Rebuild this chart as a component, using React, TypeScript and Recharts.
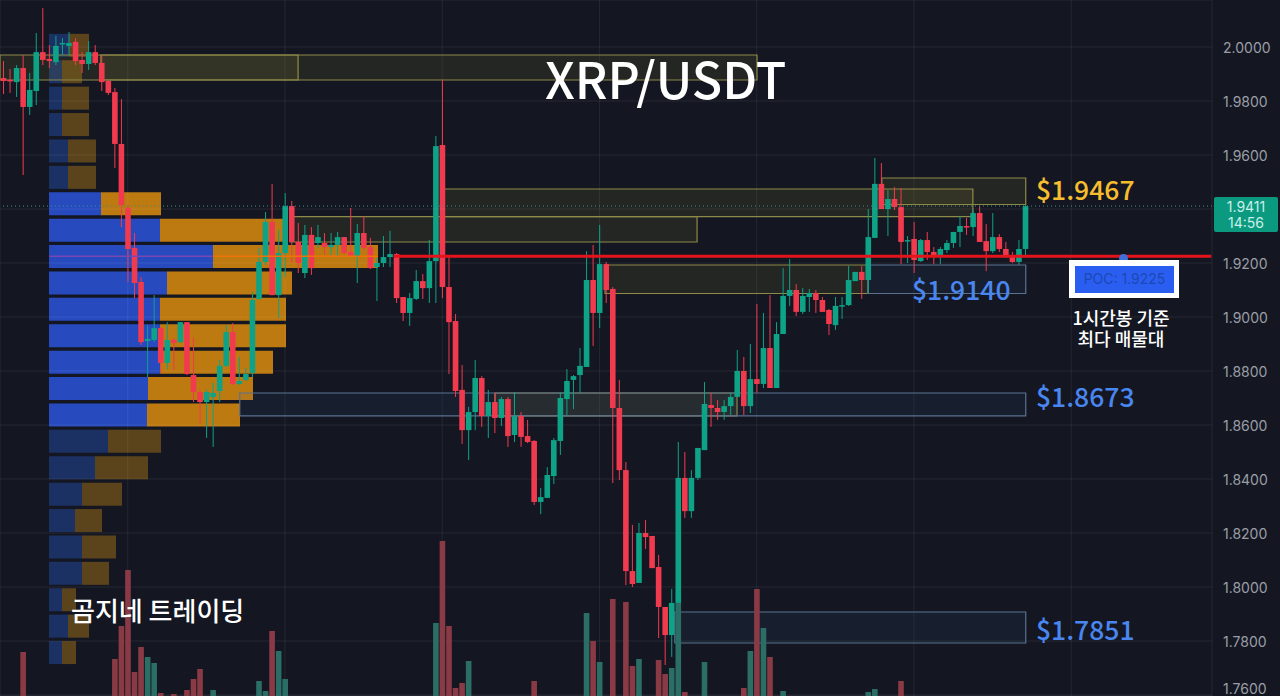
import React from "react";
import {
  Bar,
  BarChart,
  CartesianGrid,
  Cell,
  ComposedChart,
  ReferenceArea,
  ReferenceLine,
  XAxis,
  YAxis,
} from "recharts";

const W = 1280;
const H = 696;

// hourly candles, oldest first
const opens = [
  1.9885, 1.9878, 1.987, 1.9922, 1.9778, 1.9837, 1.9981, 1.9956, 1.9944, 2.0011,
  2.0004, 2.0019, 1.9952, 1.9937, 1.9981, 1.9941, 1.9874, 1.9833, 1.9641, 1.9404,
  1.9256, 1.913, 1.8911, 1.8915, 1.8959, 1.883, 1.8915, 1.8907, 1.8981, 1.8785,
  1.8722, 1.8685, 1.8704, 1.8726, 1.8819, 1.8944, 1.8752, 1.8767, 1.8793, 1.9067,
  1.9204, 1.9352, 1.9081, 1.9237, 1.9411, 1.9278, 1.9163, 1.9304, 1.9274, 1.9274,
  1.9259, 1.9267, 1.9296, 1.9241, 1.9226, 1.9311, 1.9259, 1.9185, 1.92, 1.9222,
  1.9233, 1.9074, 1.9015, 1.9067, 1.9133, 1.9107, 1.9207, 1.9637, 1.9111, 1.8985,
  1.873, 1.8581, 1.8648, 1.8774, 1.8633, 1.8685, 1.8626, 1.8696, 1.8563, 1.8633,
  1.8559, 1.8541, 1.8315, 1.833, 1.8411, 1.8541, 1.8696, 1.8767, 1.8785, 1.8815,
  1.9137, 1.9015, 1.9196, 1.9104, 1.8663, 1.8433, 1.8059, 1.8015, 1.82, 1.8189,
  1.8074, 1.7926, 1.7822, 1.7941, 1.8404, 1.8281, 1.8404, 1.8507, 1.8674, 1.8663,
  1.8648, 1.867, 1.8704, 1.88, 1.867, 1.877, 1.8752, 1.8885, 1.8737, 1.8937,
  1.9078, 1.91, 1.9019, 1.9074, 1.9089, 1.9063, 1.9026, 1.897, 1.9041, 1.9044,
  1.9133, 1.9167, 1.9137, 1.9293, 1.9493, 1.94, 1.9437, 1.9407, 1.9281, 1.9289,
  1.9207, 1.9285, 1.9241, 1.9226, 1.9248, 1.9274, 1.9315, 1.9337, 1.9333, 1.9385,
  1.9281, 1.9244, 1.9296, 1.9252, 1.9222, 1.9204, 1.9252,
];

const closes = [
  1.9874, 1.9874, 1.9922, 1.9778, 1.9841, 1.9981, 1.9952, 1.9948, 2.0004, 2.0015,
  2.0015, 1.9948, 1.9937, 1.9981, 1.9941, 1.987, 1.983, 1.9641, 1.9415, 1.9252,
  1.9126, 1.8907, 1.8919, 1.8959, 1.883, 1.8915, 1.8904, 1.8981, 1.8789, 1.8722,
  1.8685, 1.8722, 1.8719, 1.8819, 1.8944, 1.8752, 1.8763, 1.8789, 1.9063, 1.9204,
  1.9352, 1.9081, 1.9237, 1.9411, 1.9278, 1.92, 1.9304, 1.9181, 1.9296, 1.9259,
  1.9267, 1.9296, 1.9237, 1.9222, 1.9311, 1.9256, 1.9181, 1.92, 1.9222, 1.9233,
  1.907, 1.9015, 1.907, 1.9133, 1.9107, 1.9207, 1.9633, 1.9111, 1.8981, 1.8726,
  1.8581, 1.8648, 1.8774, 1.8633, 1.8685, 1.8626, 1.8696, 1.8559, 1.8633, 1.8556,
  1.8537, 1.8315, 1.8333, 1.8415, 1.8544, 1.87, 1.8763, 1.8781, 1.8819, 1.9137,
  1.9015, 1.9196, 1.91, 1.8663, 1.8433, 1.8059, 1.8011, 1.82, 1.8185, 1.807,
  1.7926, 1.7822, 1.7941, 1.8404, 1.8281, 1.8404, 1.8515, 1.8678, 1.8663, 1.8648,
  1.867, 1.8704, 1.88, 1.867, 1.877, 1.8752, 1.8885, 1.8737, 1.8937, 1.9078,
  1.91, 1.9019, 1.9078, 1.9089, 1.9063, 1.9019, 1.8974, 1.9041, 1.9044, 1.9137,
  1.9167, 1.9137, 1.9296, 1.9493, 1.94, 1.9437, 1.9407, 1.9278, 1.9285, 1.9211,
  1.9285, 1.9241, 1.9226, 1.9252, 1.9274, 1.9315, 1.9337, 1.9333, 1.9385, 1.9278,
  1.9244, 1.9296, 1.9252, 1.9222, 1.9204, 1.9252, 1.9411,
];

const highs = [
  1.9948, 1.9919, 1.9933, 1.997, 1.9904, 2.0052, 2.0144, 2.0007, 2.0041, 2.0033,
  2.0056, 2.0033, 1.9981, 2.0022, 2.0007, 1.997, 1.9878, 1.9848, 1.9807, 1.9415,
  1.9311, 1.9148, 1.897, 1.9081, 1.8963, 1.8981, 1.8922, 1.8981, 1.8981, 1.8926,
  1.873, 1.873, 1.8756, 1.8841, 1.897, 1.8978, 1.8852, 1.8811, 1.9093, 1.9256,
  1.9389, 1.9493, 1.9322, 1.9459, 1.943, 1.9348, 1.9341, 1.9333, 1.9341, 1.9311,
  1.9311, 1.9315, 1.9296, 1.9404, 1.9344, 1.9374, 1.9293, 1.9219, 1.93, 1.9319,
  1.9237, 1.9074, 1.9089, 1.9174, 1.9159, 1.9285, 1.967, 1.9878, 1.9222, 1.9011,
  1.8822, 1.8667, 1.8841, 1.8781, 1.873, 1.8719, 1.8704, 1.8704, 1.8722, 1.8648,
  1.8619, 1.8544, 1.8367, 1.8444, 1.8552, 1.8722, 1.8807, 1.8785, 1.8885, 1.9244,
  1.9267, 1.9341, 1.9204, 1.9111, 1.8767, 1.8463, 1.823, 1.8237, 1.8248, 1.8189,
  1.8119, 1.7926, 1.7993, 1.8537, 1.85, 1.8433, 1.8515, 1.8759, 1.8719, 1.8693,
  1.8693, 1.8719, 1.8878, 1.8852, 1.89, 1.9048, 1.9015, 1.9081, 1.8981, 1.9181,
  1.9215, 1.9122, 1.9107, 1.9104, 1.91, 1.9074, 1.903, 1.9074, 1.9074, 1.9189,
  1.9167, 1.9189, 1.94, 1.9589, 1.957, 1.947, 1.9481, 1.9478, 1.93, 1.9352,
  1.9289, 1.9315, 1.9259, 1.9259, 1.9285, 1.9315, 1.9374, 1.9367, 1.9396, 1.9411,
  1.9344, 1.9385, 1.9307, 1.9278, 1.9241, 1.9285, 1.9415,
];

const lows = [
  1.9826, 1.983, 1.9815, 1.9526, 1.9748, 1.9785, 1.9933, 1.9922, 1.9933, 1.997,
  1.997, 1.9933, 1.9904, 1.9915, 1.9933, 1.9837, 1.9822, 1.9552, 1.9333, 1.913,
  1.907, 1.8896, 1.8778, 1.8907, 1.8793, 1.8807, 1.8804, 1.8904, 1.8785, 1.8685,
  1.8607, 1.8552, 1.8519, 1.8685, 1.8815, 1.8748, 1.8748, 1.8763, 1.8778, 1.9063,
  1.9193, 1.9081, 1.8996, 1.9148, 1.92, 1.9163, 1.9144, 1.9156, 1.9256, 1.923,
  1.923, 1.9222, 1.9233, 1.9222, 1.9126, 1.9248, 1.9178, 1.9059, 1.9185, 1.9185,
  1.9052, 1.8985, 1.8967, 1.9063, 1.9067, 1.9052, 1.9052, 1.907, 1.8789, 1.8704,
  1.853, 1.847, 1.8581, 1.8593, 1.8552, 1.857, 1.8596, 1.8519, 1.8537, 1.8519,
  1.8533, 1.8304, 1.827, 1.833, 1.8381, 1.8489, 1.8637, 1.8659, 1.8719, 1.8815,
  1.8893, 1.8959, 1.9052, 1.8385, 1.8396, 1.8007, 1.8, 1.8015, 1.8141, 1.807,
  1.7811, 1.7711, 1.7741, 1.7941, 1.8256, 1.8256, 1.8396, 1.8507, 1.8593, 1.8619,
  1.8619, 1.8637, 1.8704, 1.8637, 1.8644, 1.8719, 1.8737, 1.8737, 1.8737, 1.8937,
  1.9041, 1.9004, 1.9011, 1.9019, 1.9015, 1.9019, 1.8933, 1.8952, 1.8993, 1.9041,
  1.9133, 1.9067, 1.9089, 1.9293, 1.94, 1.93, 1.9396, 1.9196, 1.92, 1.9163,
  1.9204, 1.9211, 1.9196, 1.9196, 1.9237, 1.9256, 1.9259, 1.9304, 1.93, 1.9278,
  1.917, 1.9237, 1.9241, 1.9219, 1.92, 1.9193, 1.9222,
];

const volumes = [
  0, 0, 0, 44, 0, 0, 0, 0, 0, 0,
  0, 0, 0, 0, 0, 0, 0, 37, 70, 126,
  24, 49, 39, 33, 3, 0, 2, 0, 6, 17,
  27, 0, 6, 0, 0, 0, 0, 0, 0, 15,
  5, 65, 45, 17, 0, 0, 0, 0, 0, 0,
  0, 0, 0, 0, 0, 0, 0, 0, 0, 0,
  0, 0, 0, 0, 0, 0, 73, 155, 70, 8,
  13, 35, 0, 0, 0, 0, 0, 0, 0, 0,
  0, 15, 0, 0, 0, 0, 0, 0, 0, 83,
  55, 34, 0, 97, 0, 94, 30, 37, 0, 0,
  36, 22, 28, 93, 4, 0, 0, 34, 0, 0,
  0, 0, 0, 8, 45, 107, 68, 39, 0, 5,
  0, 0, 0, 0, 0, 0, 0, 0, 0, 0,
  0, 0, 4, 7, 0, 0, 0, 15, 0, 0,
  0, 0, 0, 0, 0, 0, 0, 0, 0, 0,
  0, 0, 0, 0, 0, 0, 0,
];

// volume profile rows, top to bottom
const profileBuy = [
  20, 13, 13, 13, 19, 19, 52, 111, 164, 118, 111, 111, 111, 99, 98, 59, 46, 33,
  26, 33, 33, 13, 19, 13,
];
const profileSell = [
  20, 20, 27, 27, 28, 28, 60, 125, 165, 125, 126, 126, 113, 105, 93, 53, 53, 40,
  27, 34, 27, 14, 21, 14,
];
const valueAreaRows = [6, 7, 8, 9, 10, 11, 12, 13, 14];

// 1.94 sits behind the live price tag, so it gets a plain grid line below
const priceTicks = [
  2.0, 1.98, 1.96, 1.92, 1.9, 1.88, 1.86, 1.84, 1.82, 1.8, 1.78, 1.76,
];
const gridSlots = [19, 43, 67, 91, 115, 139, 163];

const yellowZones = [
  { from: undefined, to: 45, top: 1.99704, bottom: 1.98778 },
  { from: 14.9, to: 115.05, top: 1.99704, bottom: 1.98778 },
  { from: 43.8, to: 105.9, top: 1.93715, bottom: 1.92778 },
  { from: 67.1, to: 148, top: 1.94741, bottom: 1.93715 },
  { from: 134.1, to: 156.07, top: 1.95148, bottom: 1.94167 },
  { from: 91.85, to: 132, top: 1.91926, bottom: 1.9087 },
  { from: 75.06, to: 112, top: 1.87185, bottom: 1.86341 },
];
const blueZones = [
  { from: 36.1, to: 156.07, top: 1.87185, bottom: 1.86341 },
  { from: 132, to: 156.07, top: 1.91926, bottom: 1.9087 },
  { from: 102.5, to: 156.07, top: 1.79074, bottom: 1.77926 },
];

const SLOTS = 185;
const chartData = Array.from({ length: SLOTS }, (_, i) => ({
  i,
  open: opens[i],
  close: closes[i],
  high: highs[i],
  low: lows[i],
  volume: volumes[i] ?? 0,
}));

const profileData = profileBuy.map((buy, row) => ({
  row,
  buy,
  sell: profileSell[row],
}));

const UP = "#0ea287";
const DOWN = "#f23a4e";

function Candle(props: any) {
  const { x, y, width, height, payload } = props;
  if (payload.open == null) return null;
  const h = Math.abs(height);
  const range = payload.high - payload.low || 1;
  const py = (v: number) => y + ((payload.high - v) / range) * h;
  const up = payload.close >= payload.open;
  const color = up ? UP : DOWN;
  const cx = x + width / 2;
  const top = py(Math.max(payload.open, payload.close));
  const bottom = py(Math.min(payload.open, payload.close));
  return (
    <g>
      <line x1={cx} x2={cx} y1={y} y2={y + h} stroke={color} strokeWidth={1} />
      <rect
        x={cx - 2.8}
        y={top}
        width={5.6}
        height={Math.max(bottom - top, 1.5)}
        fill={color}
      />
    </g>
  );
}

function VolumeBar(props: any) {
  const { x, y, width, height, payload } = props;
  if (!payload.volume) return null;
  const cx = x + width / 2;
  return (
    <rect
      x={cx - 2.8}
      y={y}
      width={5.6}
      height={height}
      fill={payload.close >= payload.open ? "#2b6e66" : "#8a3a45"}
    />
  );
}

const note = (style: React.CSSProperties): React.CSSProperties => ({
  position: "absolute",
  whiteSpace: "nowrap",
  fontFamily: "'Noto Sans CJK KR', 'Noto Sans', sans-serif",
  lineHeight: 1,
  ...style,
});

export default function App() {
  return (
    <div
      style={{
        position: "fixed",
        left: 0,
        top: 0,
        width: W,
        height: H,
        background: "#141722",
        overflow: "hidden",
      }}
    >
      <div style={{ position: "absolute", left: 0, top: 0 }}>
        <BarChart
          width={W}
          height={H}
          layout="vertical"
          data={profileData}
          barCategoryGap="7%"
          margin={{ top: 32, right: 0, bottom: 30.4, left: 49 }}
        >
          <XAxis type="number" hide domain={[0, 1231]} />
          <YAxis type="category" dataKey="row" hide />
          <Bar dataKey="buy" stackId="p" isAnimationActive={false}>
            {profileData.map((d) => (
              <Cell
                key={d.row}
                fill={valueAreaRows.includes(d.row) ? "#274bbf" : "#1c3163"}
              />
            ))}
          </Bar>
          <Bar dataKey="sell" stackId="p" isAnimationActive={false}>
            {profileData.map((d) => (
              <Cell
                key={d.row}
                fill={valueAreaRows.includes(d.row) ? "#bd7a10" : "#5b431b"}
              />
            ))}
          </Bar>
        </BarChart>
      </div>

      <div style={{ position: "absolute", left: 0, top: 0 }}>
        <ComposedChart
          width={W}
          height={H}
          data={chartData}
          barCategoryGap={0}
          margin={{ top: 0, right: 0, bottom: 0, left: 0 }}
        >
          <CartesianGrid stroke="rgba(255,255,255,0.07)" yAxisId="price" />
          <XAxis dataKey="i" hide ticks={gridSlots} interval={0} />
          <XAxis xAxisId="volX" dataKey="i" hide />
          {/* continuous slot axis for zones and segments that stop between candles */}
          <XAxis
            xAxisId="slot"
            dataKey="i"
            type="number"
            hide
            domain={[-0.5, SLOTS - 0.5]}
            allowDataOverflow
          />
          <YAxis
            yAxisId="price"
            orientation="right"
            width={68}
            domain={[1.75963, 2.01741]}
            ticks={priceTicks}
            allowDataOverflow
            axisLine={false}
            tickLine={false}
            tick={{ fill: "#9b9ea6", fontSize: 14, fontFamily: "Inter", dy: 1 }}
            tickMargin={5}
            tickFormatter={(v: number) => v.toFixed(4)}
          />
          <YAxis yAxisId="vol" hide domain={[0, 696]} allowDataOverflow />

          <ReferenceLine
            yAxisId="price"
            y={1.94}
            stroke="rgba(255,255,255,0.07)"
          />
          {yellowZones.map((z, k) => (
            <ReferenceArea
              key={k}
              xAxisId="slot"
              yAxisId="price"
              x1={z.from}
              x2={z.to}
              y1={z.top}
              y2={z.bottom}
              fill="#b8ae3c"
              fillOpacity={0.1}
              stroke="#8d8a48"
              strokeWidth={1.2}
            />
          ))}
          {blueZones.map((z, k) => (
            <ReferenceArea
              key={k}
              xAxisId="slot"
              yAxisId="price"
              x1={z.from}
              x2={z.to}
              y1={z.top}
              y2={z.bottom}
              fill="#3d6eb4"
              fillOpacity={0.08}
              stroke="#5a7291"
              strokeWidth={1.2}
            />
          ))}

          <ReferenceLine
            yAxisId="price"
            y={1.9411}
            stroke="#3f9088"
            strokeDasharray="1 3"
          />
          <Bar
            xAxisId="volX"
            yAxisId="vol"
            dataKey="volume"
            shape={VolumeBar}
            isAnimationActive={false}
          />
          <Bar
            yAxisId="price"
            dataKey={(d: any) => (d.open == null ? null : [d.low, d.high])}
            shape={Candle}
            isAnimationActive={false}
          />
          <ReferenceLine
            xAxisId="slot"
            yAxisId="price"
            segment={[
              { x: 7, y: 1.9225 },
              { x: 32, y: 1.9225 },
            ]}
            stroke="#7b46b4"
            strokeWidth={1.5}
          />
          <ReferenceLine
            xAxisId="slot"
            yAxisId="price"
            segment={[
              { x: 32.3, y: 1.9225 },
              { x: 57.2, y: 1.9225 },
            ]}
            stroke="#ef7306"
            strokeWidth={1.5}
          />
          <ReferenceLine
            xAxisId="slot"
            yAxisId="price"
            segment={[
              { x: 59.6, y: 1.9225 },
              { x: 184.4, y: 1.9225 },
            ]}
            stroke="#e5141c"
            strokeWidth={3}
          />
        </ComposedChart>
      </div>

      <div
        style={note({
          left: 545,
          top: 52,
          fontSize: 50,
          color: "#fff",
          fontWeight: 500,
        })}
      >
        XRP/USDT
      </div>
      <div
        style={{
          position: "absolute",
          left: 1214,
          top: 197,
          width: 64,
          height: 35,
          borderRadius: 2,
          background: "#0b9a80",
          color: "#c9efe8",
          fontFamily: "Inter",
          fontSize: 14,
          lineHeight: "16px",
          paddingTop: 2,
          boxSizing: "border-box",
          textAlign: "center",
        }}
      >
        1.9411
        <br />
        14:56
      </div>
      <div style={note({ left: 1036, top: 176, fontSize: 26.5, fontWeight: 500, color: "#f6bd2f" })}>
        $1.9467
      </div>
      <div style={note({ left: 912, top: 276, fontSize: 26.5, fontWeight: 500, color: "#4a86ef" })}>
        $1.9140
      </div>
      <div style={note({ left: 1036, top: 383, fontSize: 26.5, fontWeight: 500, color: "#4a86ef" })}>
        $1.8673
      </div>
      <div style={note({ left: 1036, top: 616, fontSize: 26.5, fontWeight: 500, color: "#4a86ef" })}>
        $1.7851
      </div>
      <div
        style={{
          position: "absolute",
          left: 1119,
          top: 254,
          width: 9,
          height: 9,
          borderRadius: 5,
          background: "#3f6fd8",
        }}
      />
      <div
        style={{
          position: "absolute",
          left: 1069,
          top: 260,
          width: 110,
          height: 38,
          boxSizing: "border-box",
          border: "6px solid #fff",
          borderRightWidth: 5,
          borderBottomWidth: 5,
          background: "#2a5ef0",
          color: "#1d48b4",
          fontFamily: "Inter",
          fontSize: 14,
          lineHeight: "26px",
          textAlign: "center",
        }}
      >
        POC: 1.9225
      </div>
      <div
        style={note({
          left: 1061,
          width: 120,
          top: 307,
          fontSize: 18,
          lineHeight: "21px",
          color: "#fff",
          textAlign: "center",
          fontWeight: 500,
        })}
      >
        1시간봉 기준
        <br />
        최다 매물대
      </div>
      <div style={note({ left: 71, top: 597, fontSize: 26, color: "#fff", fontWeight: 500 })}>
        곰지네 트레이딩
      </div>
    </div>
  );
}
